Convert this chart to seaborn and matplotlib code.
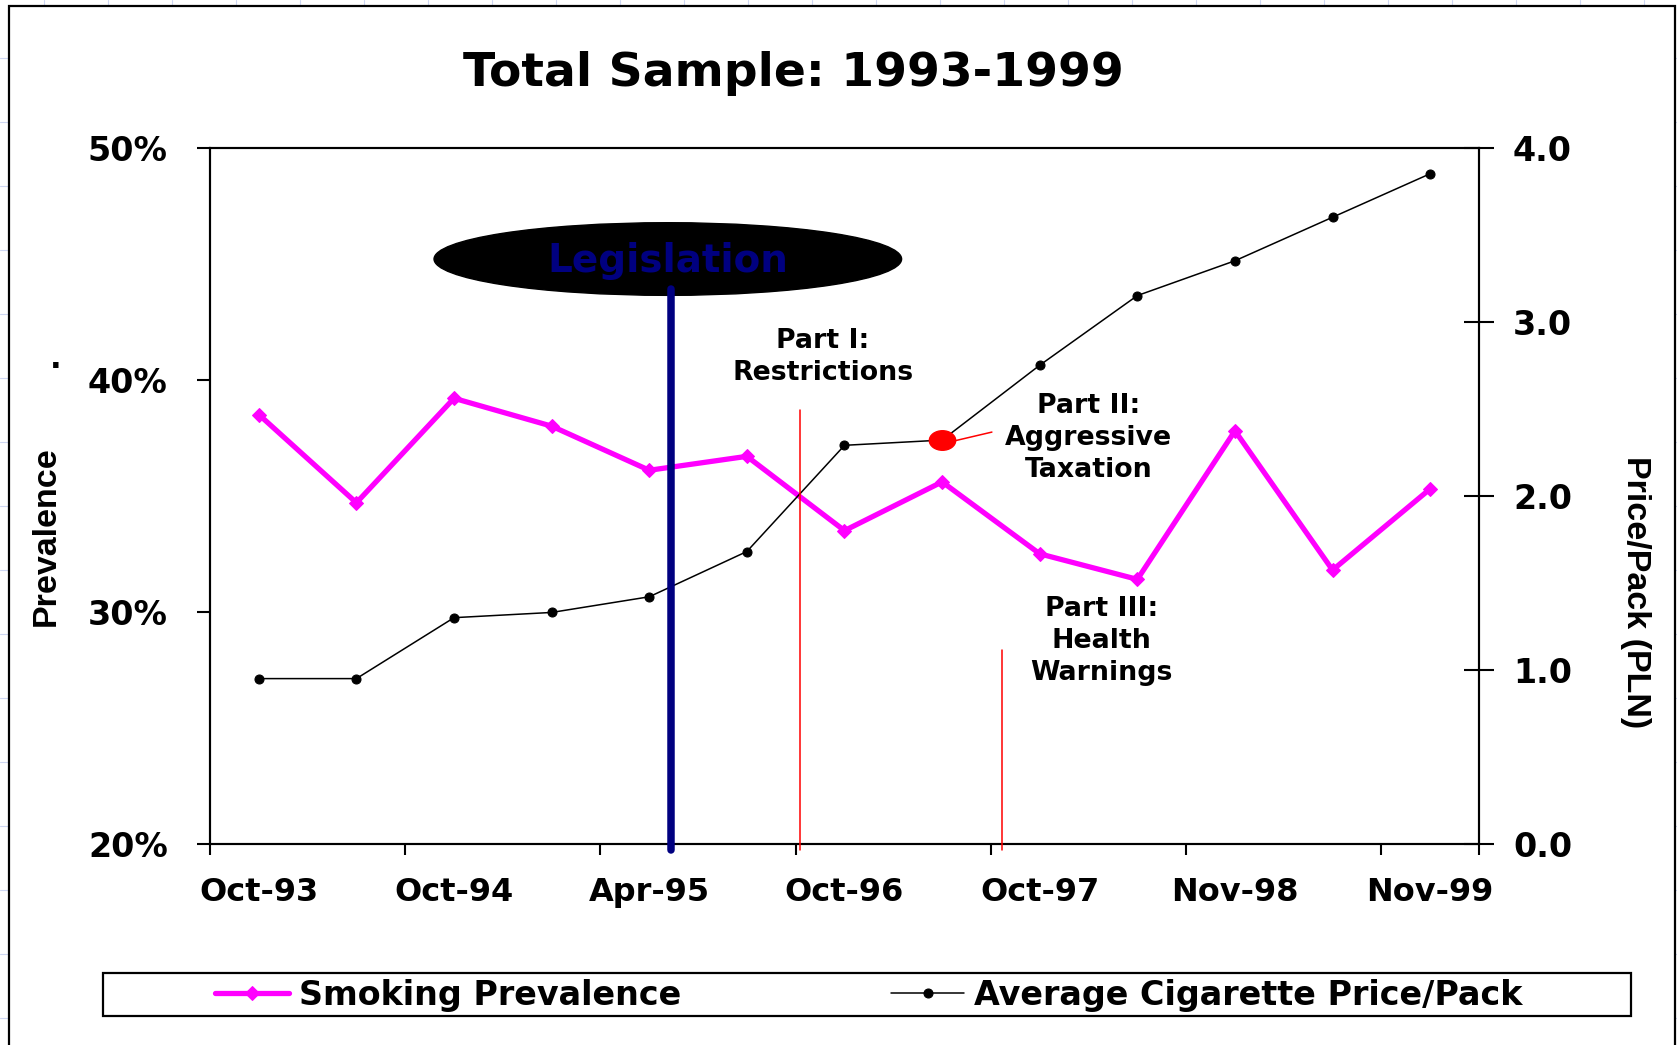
import numpy as np
import pandas as pd
import matplotlib
matplotlib.use("Agg")
import matplotlib.pyplot as plt
import seaborn as sns
from matplotlib.patches import Ellipse, Rectangle
from matplotlib.lines import Line2D
from matplotlib.path import Path
from matplotlib.transforms import Affine2D
from matplotlib import font_manager

# ---------------- data ----------------
survey_index = list(range(13))
tick_positions = [0, 2, 4, 6, 8, 10, 12]
tick_labels = ["Oct-93", "Oct-94", "Apr-95", "Oct-96", "Oct-97", "Nov-98", "Nov-99"]
prevalence = [38.5, 34.7, 39.2, 38.0, 36.1, 36.7, 33.5, 35.6, 32.5, 31.4, 37.8, 31.8, 35.3]
price = [0.95, 0.95, 1.30, 1.33, 1.42, 1.68, 2.29, 2.32, 2.75, 3.15, 3.35, 3.60, 3.85]
left_ticks = [20, 30, 40, 50]
left_tick_labels = ["20%", "30%", "40%", "50%"]
right_ticks = [0, 1, 2, 3, 4]
right_tick_labels = ["0.0", "1.0", "2.0", "3.0", "4.0"]
taxation_point = 7
series_names = ["Smoking Prevalence", "Average Cigarette Price/Pack"]

df = pd.DataFrame({"idx": survey_index, "prev": prevalence, "price": price})

# ---------------- style ----------------
sns.set_theme(style="white")
plt.rcParams["font.family"] = ["DejaVu Sans"]
plt.rcParams["text.color"] = "black"
plt.rcParams["axes.labelcolor"] = "black"
plt.rcParams["xtick.color"] = "black"
plt.rcParams["ytick.color"] = "black"
names = {f.name for f in font_manager.fontManager.ttflist}
narrow = "Liberation Sans Narrow" if "Liberation Sans Narrow" in names else "Liberation Sans"
label_size = 29 if narrow == "Liberation Sans Narrow" else 24.5

W, H = 1677, 1045
fig = plt.figure(figsize=(W / 100, H / 100), dpi=100)

# slide background grid + frame
for gx in np.arange(43.8, W, 64):
    fig.add_artist(Line2D([gx / W, gx / W], [0, 1], color="#cdd6f2", lw=0.8, zorder=-3))
for gy in np.arange(58, H, 64):
    fig.add_artist(Line2D([0, 1], [1 - gy / H, 1 - gy / H], color="#cdd6f2", lw=0.8, zorder=-3))
fig.add_artist(Rectangle((8.5 / W, -0.02), (1675 - 8.5) / W, 1.02 - 5.5 / H,
                         facecolor="white", edgecolor="black", lw=1.6, zorder=-1))

ax = fig.add_axes([210 / W, 1 - 844 / H, (1479 - 210) / W, (844 - 147.6) / H])
ax.set_facecolor("none")

sns.lineplot(data=df, x="idx", y="prev", ax=ax, color="#FF00FF", lw=3.8,
             marker="D", markersize=7.5, markeredgecolor="#FF00FF",
             markerfacecolor="#FF00FF", label=series_names[0])
ax2 = ax.twinx()
sns.lineplot(data=df, x="idx", y="price", ax=ax2, color="black", lw=1.1,
             marker="o", markersize=6.5, markeredgecolor="black",
             markerfacecolor="black", label=series_names[1])

ell = Path.unit_circle().transformed(Affine2D().scale(1.35, 1.0))
ax2.plot([survey_index[taxation_point]], [price[taxation_point]], linestyle="none",
         marker=ell, markersize=19, color="red", zorder=5)

h1, l1 = ax.get_legend_handles_labels()
h2, l2 = ax2.get_legend_handles_labels()
for a in (ax, ax2):
    if a.get_legend() is not None:
        a.get_legend().remove()

# axes
ax.set_xlim(-0.5, 12.5)
ax.set_ylim(20, 50)
ax2.set_ylim(0, 4)
ax.set_xlabel("")
ax.set_ylabel("")
ax2.set_ylabel("")
ax.set_xticks(tick_positions)
ax.set_xticklabels(tick_labels)
ax.set_xticks(np.r_[np.arange(-0.5, 12.5, 2), 12.5], minor=True)
ax.set_yticks(left_ticks)
ax.set_yticklabels(left_tick_labels)
ax2.set_yticks(right_ticks)
ax2.set_yticklabels(right_tick_labels)

for a in (ax, ax2):
    for s in a.spines.values():
        s.set_visible(True)
        s.set_linewidth(1.5)
        s.set_color("black")

ax.tick_params(axis="x", which="major", length=0, pad=24, labelsize=23)
ax.tick_params(axis="x", which="minor", direction="out", length=8, width=1.5,
               color="black", bottom=True)
ax.tick_params(axis="y", which="major", direction="out", length=9.5, width=1.5,
               color="black", left=True, pad=21, labelsize=24)
ax2.tick_params(axis="y", which="major", direction="inout", length=21, width=1.5,
                color="black", right=True, pad=14, labelsize=24)
for lab in ax.get_xticklabels() + ax.get_yticklabels() + ax2.get_yticklabels():
    lab.set_fontweight("bold")
    lab.set_color("black")

# annotations (left-axis data coordinates)
T = ax.transData
ax2.add_patch(Ellipse((4.19, 45.2), 4.79, 3.13, transform=T, facecolor="black",
                      edgecolor="black", clip_on=False, zorder=6))
ax2.text(4.19, 45.1, "Legislation", transform=T, ha="center", va="center",
         color="#000080", fontsize=28, fontweight="bold", zorder=7)
ax2.plot([4.224, 4.224], [43.9, 19.72], transform=T, color="#000080", lw=5.4,
         solid_capstyle="round", clip_on=False, zorder=6)
ax2.plot([5.54, 5.54], [38.7, 19.72], transform=T, color="red", lw=1.1,
         clip_on=False, zorder=6)
ax2.plot([7.61, 7.61], [28.34, 19.72], transform=T, color="red", lw=1.1,
         clip_on=False, zorder=6)
ax2.plot([7.13, 7.51], [2.316, 2.366], color="red", lw=1.1, zorder=6)
txt_kw = dict(transform=T, ha="center", va="center", fontsize=19.3,
              fontweight="bold", color="black", linespacing=1.3, zorder=7)
ax2.text(5.78, 41.0, "Part I:\nRestrictions", **txt_kw)
ax2.text(8.50, 37.47, "Part II:\nAggressive\nTaxation", **txt_kw)
ax2.text(8.63, 28.76, "Part III:\nHealth\nWarnings", **txt_kw)

# titles / labels
fig.text(793 / W, 1 - 73 / H, "Total Sample: 1993-1999", ha="center", va="center",
         fontsize=34, fontweight="bold", color="black")
fig.text(46 / W, 1 - 536 / H, "Prevalence", rotation=90, ha="center", va="center",
         fontsize=label_size, fontweight="bold", family=narrow, color="black")
fig.text(1636 / W, 1 - 592 / H, "Price/Pack (PLN)", rotation=270, ha="center",
         va="center", fontsize=label_size, fontweight="bold", family=narrow, color="black")
fig.text(56 / W, 1 - 368 / H, ".", ha="center", va="baseline", fontsize=22,
         fontweight="bold", color="black")

# legend
fig.add_artist(Rectangle((103 / W, 1 - 1016 / H), (1631 - 103) / W, 43 / H,
                         facecolor="white", edgecolor="black", lw=1.6, zorder=1))
leg = fig.legend(h1 + h2, l1 + l2, loc="center", bbox_to_anchor=(869 / W, 1 - 995 / H),
                 ncol=2, frameon=False, handlelength=2.2, handletextpad=0.3,
                 columnspacing=6.3, prop=dict(weight="bold", size=24))
for t in leg.get_texts():
    t.set_color("black")
leg.set_zorder(2)

fig.savefig("out.png", dpi=100)
